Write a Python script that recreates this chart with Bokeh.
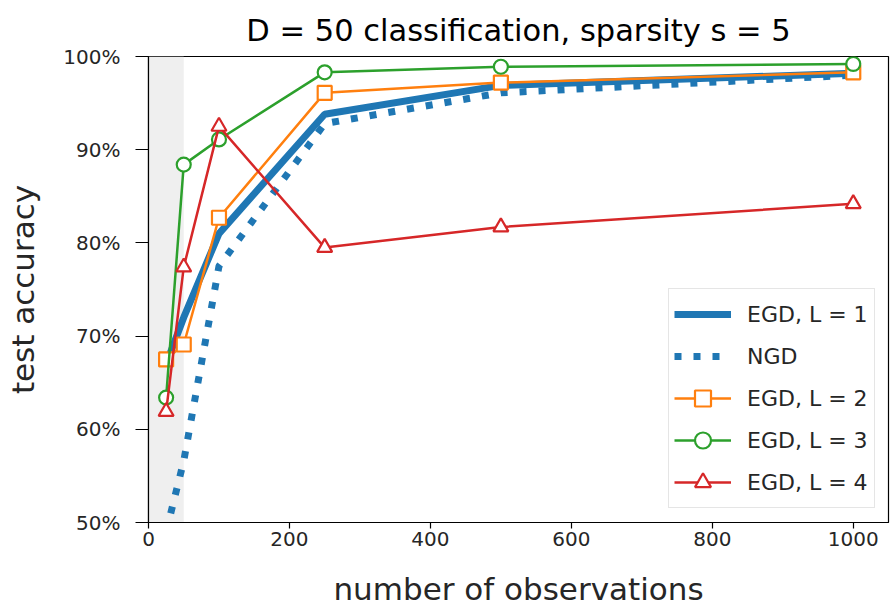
from bokeh.plotting import figure
from bokeh.models import Range1d, FixedTicker, NumeralTickFormatter, BoxAnnotation, Legend, LegendItem
from bokeh.embed import file_html
from bokeh.resources import INLINE

# ---- data ----
n_obs = [25, 50, 100, 250, 500, 1000]
egd_l1 = [0.67, 0.72, 0.81, 0.938, 0.969, 0.982]
ngd = [0.49, 0.566, 0.775, 0.928, 0.961, 0.980]
egd_l2 = [0.675, 0.691, 0.827, 0.961, 0.972, 0.983]
egd_l3 = [0.634, 0.884, 0.911, 0.983, 0.989, 0.992]
egd_l4 = [0.619, 0.774, 0.925, 0.795, 0.817, 0.842]
x_ticks = [0, 200, 400, 600, 800, 1000]
y_ticks = [0.5, 0.6, 0.7, 0.8, 0.9, 1.0]
shade_range = [0, 50]
labels = ["EGD, L = 1", "NGD", "EGD, L = 2", "EGD, L = 3", "EGD, L = 4"]
title_text = "D = 50 classification, sparsity s = 5"

BLUE, ORANGE, GREEN, RED = "#1f77b4", "#ff7f0e", "#2ca02c", "#d62728"
FONT = "DejaVu Sans"

p = figure(frame_width=740, frame_height=466,
           x_range=Range1d(0, 1050), y_range=Range1d(0.5, 1.0),
           output_backend="svg", toolbar_location=None,
           min_border_left=148, min_border_right=2, min_border_top=56, min_border_bottom=85,
           background_fill_color="white", border_fill_color="white")

p.title.text = title_text
p.title.text_font = FONT
p.title.text_font_size = "30.5px"
p.title.text_font_style = "normal"
p.title.align = "center"
p.title.text_color = "black"
p.title.standoff = 18

p.xgrid.visible = False
p.ygrid.visible = False
p.outline_line_color = "black"
p.outline_line_width = 1.2

shade = BoxAnnotation(left=shade_range[0], right=shade_range[1], fill_color="#efefef",
                      fill_alpha=1.0, line_color=None, level="underlay")
p.add_layout(shade)

r1 = p.line(n_obs, egd_l1, line_color=BLUE, line_width=7)
r2 = p.line(n_obs, ngd, line_color=BLUE, line_width=7, line_dash="7 12")
r3l = p.line(n_obs, egd_l2, line_color=ORANGE, line_width=2.5)
r3m = p.scatter(n_obs, egd_l2, marker="square", size=14, line_color=ORANGE,
                fill_color="white", line_width=2.2)
r4l = p.line(n_obs, egd_l3, line_color=GREEN, line_width=2.5)
r4m = p.scatter(n_obs, egd_l3, marker="circle", size=14, line_color=GREEN,
                fill_color="white", line_width=2.2)
r5l = p.line(n_obs, egd_l4, line_color=RED, line_width=2.5)
r5m = p.scatter(n_obs, egd_l4, marker="triangle", size=15, line_color=RED,
                fill_color="white", line_width=2.2)

# axes
p.xaxis.ticker = FixedTicker(ticks=x_ticks)
p.yaxis.ticker = FixedTicker(ticks=y_ticks)
p.yaxis.formatter = NumeralTickFormatter(format="0%")
for ax in (p.xaxis[0], p.yaxis[0]):
    ax.axis_line_color = "black"
    ax.axis_line_width = 1.2
    ax.major_tick_line_color = "black"
    ax.major_tick_line_width = 1.2
    ax.major_tick_in = 0
    ax.minor_tick_line_color = None
    ax.major_label_text_font = FONT
    ax.major_label_text_font_size = "20px"
    ax.major_label_text_color = "#262626"
    ax.axis_label_text_font = FONT
    ax.axis_label_text_font_style = "normal"
    ax.axis_label_text_color = "#262626"

p.xaxis.axis_label = "number of observations"
p.xaxis.axis_label_text_font_size = "31px"
p.xaxis.major_tick_out = 6
p.xaxis.major_label_standoff = 3
p.xaxis.axis_label_standoff = 22

p.yaxis.axis_label = "test accuracy"
p.yaxis.axis_label_text_font_size = "31px"
p.yaxis.major_tick_out = 13
p.yaxis.major_label_standoff = 15
p.yaxis.axis_label_standoff = 19

legend = Legend(items=[
    LegendItem(label=labels[0], renderers=[r1]),
    LegendItem(label=labels[1], renderers=[r2]),
    LegendItem(label=labels[2], renderers=[r3l, r3m]),
    LegendItem(label=labels[3], renderers=[r4l, r4m]),
    LegendItem(label=labels[4], renderers=[r5l, r5m]),
], location=(520, 14))
legend.label_text_font = FONT
legend.label_text_font_size = "22px"
legend.label_text_color = "#262626"
legend.glyph_width = 57
legend.glyph_height = 40
legend.label_height = 40
legend.label_width = 122
legend.label_standoff = 16
legend.spacing = 2
legend.padding = 5
legend.margin = 0
legend.border_line_color = "#cccccc"
legend.border_line_width = 1.2
legend.background_fill_color = "white"
legend.background_fill_alpha = 0.8
p.add_layout(legend)

open("out.html", "w").write(file_html(p, INLINE))
